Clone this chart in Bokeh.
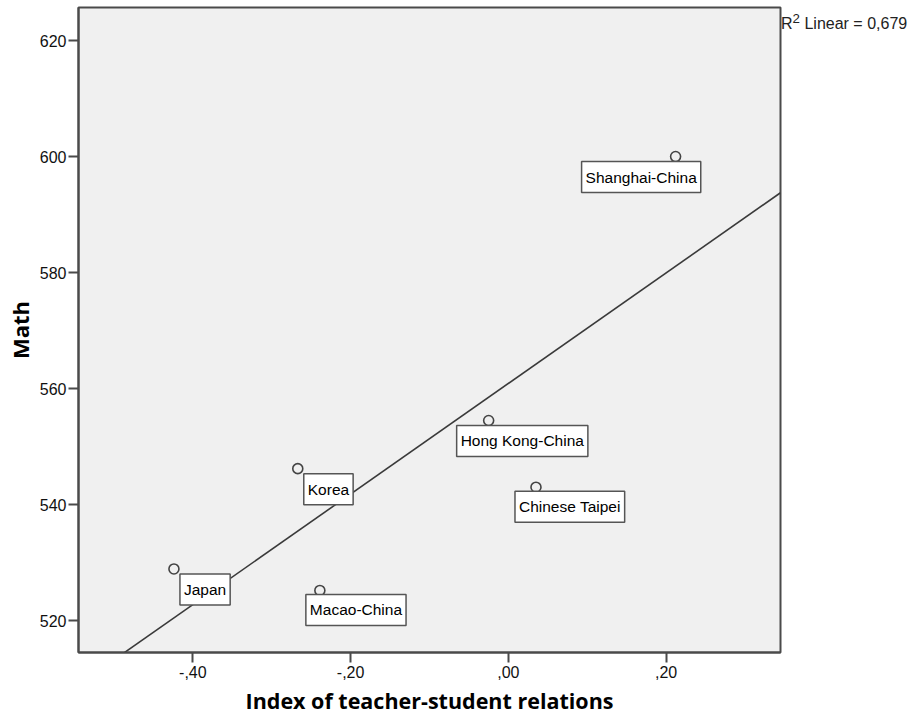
import numpy as np
from bokeh.plotting import figure
from bokeh.models import Label, FixedTicker, CustomJSTickFormatter, Range1d, Div
from bokeh.layouts import row
from bokeh.embed import file_html
from bokeh.resources import INLINE

# ---- data ----
countries = ["Shanghai-China", "Hong Kong-China", "Chinese Taipei", "Korea", "Japan", "Macao-China"]
relations = [0.212, -0.025, 0.035, -0.267, -0.424, -0.239]
math = [600.0, 554.5, 543.0, 546.2, 528.9, 525.2]
x_ticks = [-0.4, -0.2, 0.0, 0.2]
y_ticks = [520, 540, 560, 580, 600, 620]
r2_html = "R<sup>2</sup> Linear = 0,679"

# ---- layout (label box offsets relative to point, screen px) ----
label_offsets = {
    "Shanghai-China": (-94, 6),
    "Hong Kong-China": (-32, 6),
    "Chinese Taipei": (-21, 5),
    "Korea": (6, 6),
    "Japan": (6, 6),
    "Macao-China": (-14, 5),
}

x0, x1 = -0.545, 0.345
y0, y1 = 514.5, 625.7

p = figure(width=783, height=717, output_backend="svg", toolbar_location=None,
           x_range=Range1d(x0, x1), y_range=Range1d(y0, y1),
           min_border_left=78, min_border_right=3, min_border_top=7, min_border_bottom=65)

p.background_fill_color = "#f0f0f0"
p.border_fill_color = "white"
p.outline_line_color = "#4a4a4a"
p.outline_line_width = 2
p.xgrid.visible = False
p.ygrid.visible = False

# regression line (least squares fit of the data)
xs = np.array(relations)
ys = np.array(math)
slope, intercept = np.polyfit(xs, ys, 1)
lx = np.array([x0, x1])
p.line(lx, slope * lx + intercept, line_color="#3a3a3a", line_width=1.6)

# points
p.scatter(relations, math, size=10, marker="circle", fill_color=None,
          line_color="#444444", line_width=1.6)

padh, padv = 4, 7
for c, xv, yv in zip(countries, relations, math):
    dx, dy = label_offsets[c]
    p.add_layout(Label(x=xv, y=yv, text=c, x_offset=dx, y_offset=-(dy - 1),
                       text_align="left", text_baseline="top",
                       text_font="Liberation Sans", text_font_size="15.5px", text_color="black",
                       background_fill_color="white", border_line_color="#555555",
                       border_line_width=1.5, padding=(padh, padv)))

for ax in (p.xaxis[0], p.yaxis[0]):
    ax.axis_line_color = "#4a4a4a"
    ax.axis_line_width = 2
    ax.major_tick_line_color = "#4a4a4a"
    ax.major_tick_line_width = 2
    ax.major_tick_out = 10
    ax.major_tick_in = 0
    ax.minor_tick_line_color = None
    ax.major_label_text_font = "Liberation Sans"
    ax.major_label_text_font_size = "16px"
    ax.major_label_text_color = "#111111"
    ax.axis_label_text_font = "Open Sans"
    ax.axis_label_text_font_style = "bold"
    ax.axis_label_text_color = "black"

p.yaxis.major_label_standoff = 2
p.xaxis.major_label_standoff = 3
p.xaxis.axis_label_text_font_size = "21.5px"
p.yaxis.axis_label_text_font_size = "22px"
p.xaxis.ticker = FixedTicker(ticks=x_ticks)
p.yaxis.ticker = FixedTicker(ticks=y_ticks)
p.xaxis.formatter = CustomJSTickFormatter(code="""
    var s = tick.toFixed(2);
    s = s.replace('0.', '.').replace('.', ',');
    return s;
""")
p.xaxis.axis_label = "Index of teacher-student relations"
p.yaxis.axis_label = "Math"
p.xaxis.axis_label_standoff = 5
p.yaxis.axis_label_standoff = 2

r2 = Div(text=r2_html, width=126, height=40, margin=(9, 0, 0, -2),
         styles={"font-family": "Liberation Sans", "font-size": "16px", "color": "#222222",
                 "white-space": "nowrap"})

layout = row(p, r2)
open("out.html", "w").write(file_html(layout, INLINE))
